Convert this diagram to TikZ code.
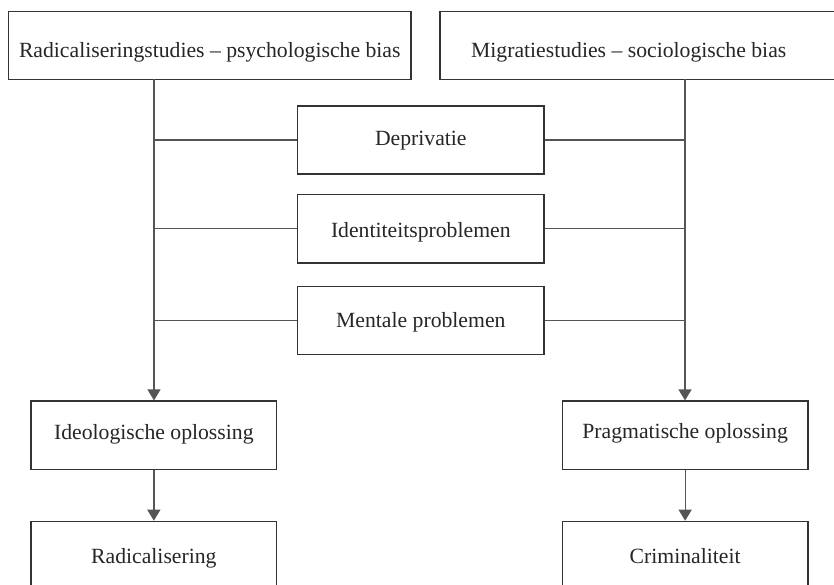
\documentclass[tikz,border=0pt]{standalone}
\usepackage{fontspec}
\setmainfont{Liberation Serif}
\usetikzlibrary{arrows.meta}
\definecolor{txt}{HTML}{262626}
\definecolor{edge}{HTML}{333333}
\definecolor{conn}{HTML}{555555}
\begin{document}
\begin{tikzpicture}[x=1pt,y=-1pt,
  box/.style={draw=edge, line width=1.2pt, fill=white, inner sep=0pt, text=txt,
    font=\fontsize{21.7}{26}\selectfont},
  lbl/.style={inner sep=0pt, text=txt, font=\fontsize{21.7}{26}\selectfont},
  link/.style={draw=conn, line width=1.3pt},
  arr/.style={link, -{Triangle[length=11pt,width=13pt]}}]
\useasboundingbox (0,0) rectangle (834,585);
\clip (0,0) rectangle (834,585);
\fill[white] (0,0) rectangle (834,585);
% top boxes
\node[box, minimum width=402.5pt, minimum height=68pt, text height=32.2pt, text depth=7.8pt] (rad) at (209.75,45.5) {Radicaliseringstudies -- psychologische bias};
\node[box, minimum width=420pt, minimum height=68pt, anchor=west] (mig) at (439.3,45.5) {};
\node[lbl, anchor=base] (migt) at (628.7,57.7) {Migratiestudies -- sociologische bias};
% middle boxes
\node[box, minimum width=246.2pt, minimum height=68pt, text height=26pt, text depth=14pt] (dep) at (420.8,140) {Deprivatie};
\node[box, minimum width=246.2pt, minimum height=68.7pt, text height=29pt, text depth=11pt] (ide) at (420.8,228.7) {Identiteitsproblemen};
\node[box, minimum width=246.2pt, minimum height=68pt, text height=26.7pt, text depth=13.3pt] (men) at (420.8,320.3) {Mentale problemen};
% lower boxes
\node[box, minimum width=245.7pt, minimum height=68.7pt, text height=23.7pt, text depth=16.3pt] (ideo) at (153.85,435.35) {Ideologische oplossing};
\node[box, minimum width=245.7pt, minimum height=68.7pt, text height=23.4pt, text depth=16.6pt] (prag) at (685.15,435.35) {Pragmatische oplossing};
\node[box, minimum width=245.7pt, minimum height=68.7pt, text height=28.3pt, text depth=11.7pt, anchor=north] (radi) at (153.85,520.7) {Radicalisering};
\node[box, minimum width=245.7pt, minimum height=68.7pt, text height=28.3pt, text depth=11.7pt, anchor=north] (crim) at (685.15,520.7) {Criminaliteit};
% connectors
\coordinate (ltop) at (154,79.5);
\coordinate (rtop) at (685,79.5);
\draw[arr] (ltop) -- (ideo.north -| ltop);
\draw[arr] (rtop) -- (prag.north -| rtop);
\draw[link] (dep.west) -- (dep.west -| ltop);
\draw[link] (ide.west) -- (ide.west -| ltop);
\draw[link] (men.west) -- (men.west -| ltop);
\draw[link] (dep.east) -- (dep.east -| rtop);
\draw[link] (ide.east) -- (ide.east -| rtop);
\draw[link] (men.east) -- (men.east -| rtop);
\draw[arr] (ideo.south) -- (radi.north);
\draw[arr] (prag.south) -- (crim.north);
\end{tikzpicture}
\end{document}
